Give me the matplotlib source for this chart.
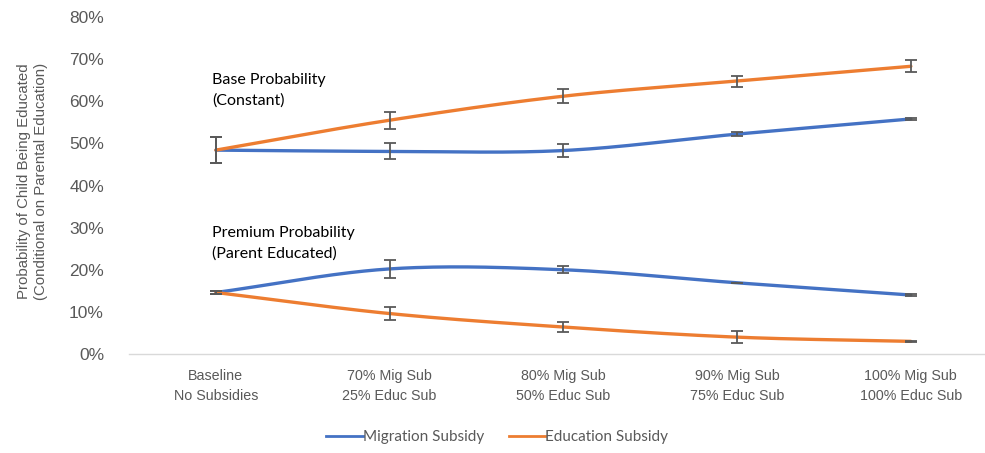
import numpy as np
import matplotlib
matplotlib.use("Agg")
import matplotlib.pyplot as plt
from matplotlib.ticker import PercentFormatter

categories = [
    "Baseline\nNo Subsidies",
    "70% Mig Sub\n25% Educ Sub",
    "80% Mig Sub\n50% Educ Sub",
    "90% Mig Sub\n75% Educ Sub",
    "100% Mig Sub\n100% Educ Sub",
]

# probabilities in percent
base_migration = [48.4, 48.1, 48.3, 52.2, 55.8]
base_migration_err = [3.0, 1.9, 1.6, 0.4, 0.2]
base_education = [48.4, 55.5, 61.2, 64.8, 68.3]
base_education_err = [3.0, 2.0, 1.7, 1.3, 1.4]

premium_migration = [14.6, 20.2, 20.0, 16.9, 14.0]
premium_migration_err = [0.3, 2.2, 0.8, 0.0, 0.3]
premium_education = [14.6, 9.6, 6.4, 4.0, 3.0]
premium_education_err = [0.3, 1.6, 1.2, 1.4, 0.2]

BLUE = "#4472C4"
ORANGE = "#ED7D31"
GREY = "#595959"


def smooth(y, n=40, tension=0.5):
    """Cardinal spline through the points, like a spreadsheet 'smoothed line'."""
    y = np.asarray(y, dtype=float)
    x = np.arange(len(y), dtype=float)
    px = np.concatenate([[2 * x[0] - x[1]], x, [2 * x[-1] - x[-2]]])
    py = np.concatenate([[2 * y[0] - y[1]], y, [2 * y[-1] - y[-2]]])
    xs, ys = [], []
    t = np.linspace(0, 1, n, endpoint=False)
    for i in range(1, len(px) - 2):
        m0x = tension * (px[i + 1] - px[i - 1])
        m1x = tension * (px[i + 2] - px[i])
        m0y = tension * (py[i + 1] - py[i - 1])
        m1y = tension * (py[i + 2] - py[i])
        h00 = 2 * t**3 - 3 * t**2 + 1
        h10 = t**3 - 2 * t**2 + t
        h01 = -2 * t**3 + 3 * t**2
        h11 = t**3 - t**2
        xs.append(h00 * px[i] + h10 * m0x + h01 * px[i + 1] + h11 * m1x)
        ys.append(h00 * py[i] + h10 * m0y + h01 * py[i + 1] + h11 * m1y)
    xs.append([x[-1]])
    ys.append([y[-1]])
    return np.concatenate(xs), np.concatenate(ys)


fig = plt.figure(figsize=(9.85, 4.53), dpi=100)
ax = fig.add_axes([129 / 985, 99 / 453, (985 - 129) / 985, 337 / 453])

x = np.arange(len(categories))
series = [
    (base_migration, base_migration_err, BLUE),
    (base_education, base_education_err, ORANGE),
    (premium_migration, premium_migration_err, BLUE),
    (premium_education, premium_education_err, ORANGE),
]
for vals, errs, color in series:
    sx, sy = smooth(vals)
    ax.plot(sx, sy, color=color, lw=2.4, solid_capstyle="round", zorder=2)
    ax.errorbar(x, vals, yerr=errs, fmt="none", ecolor=GREY, elinewidth=1.3,
                capsize=4, capthick=1.3, zorder=3)

ax.set_xlim(-0.5, -0.5 + 856 / 173.75)
ax.set_ylim(0, 80)
ax.set_yticks(range(0, 81, 10))
ax.yaxis.set_major_formatter(PercentFormatter(decimals=0))
ax.set_xticks(x)
ax.set_xticklabels(categories, linespacing=1.55)

for side in ("top", "right", "left"):
    ax.spines[side].set_visible(False)
ax.spines["bottom"].set_color("#D9D9D9")
ax.spines["bottom"].set_linewidth(1.0)
ax.tick_params(axis="both", length=0, colors=GREY, labelsize=10.3)
ax.tick_params(axis="y", pad=18, labelsize=12.5)
ax.tick_params(axis="x", pad=11)
for lab in ax.get_xticklabels() + ax.get_yticklabels():
    lab.set_family("Liberation Sans")

fig.text(0.033, 0.6, "Probability of Child Being Educated\n(Conditional on Parental Education)",
         rotation=90, ha="center", va="center", fontsize=10.8, color=GREY,
         family="Liberation Sans", linespacing=1.25)

ax.text(-0.02, 62.6, "Base Probability\n(Constant)", fontsize=11.5, color="black",
        family="Lato", va="center", linespacing=1.6)
ax.text(-0.02, 26.2, "Premium Probability\n(Parent Educated)", fontsize=11.5, color="black",
        family="Lato", va="center", linespacing=1.6)

handles = [
    plt.Line2D([], [], color=BLUE, lw=2),
    plt.Line2D([], [], color=ORANGE, lw=2),
]
fig.legend(handles, ["Migration Subsidy", "Education Subsidy"], loc="center",
           bbox_to_anchor=(0.505, 0.035), ncol=2, frameon=False,
           prop={"family": "Lato", "size": 11}, handlelength=2.4,
           handletextpad=0.0, columnspacing=1.6, labelcolor=GREY)

fig.savefig("out.png", dpi=100)
